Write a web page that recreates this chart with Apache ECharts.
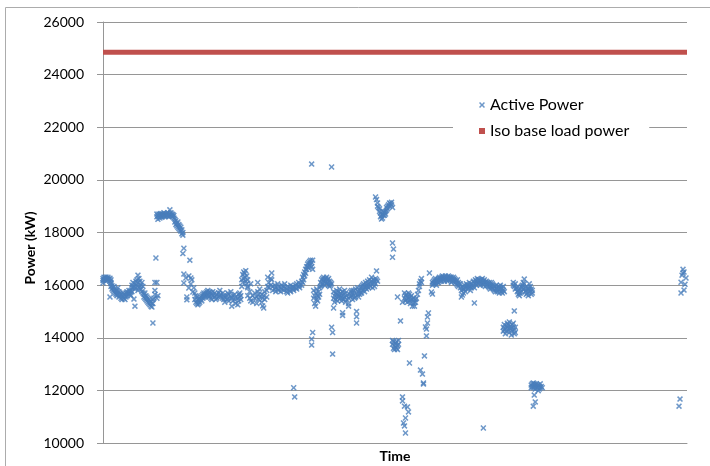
<!DOCTYPE html>
<html>
<head>
<meta charset="utf-8">
<script src="https://cdn.jsdelivr.net/npm/echarts@6/dist/echarts.min.js"></script>
<style>
  html, body { margin: 0; padding: 0; background: #fff; }
  #chart { width: 710px; height: 466px; }
</style>
</head>
<body>
<div id="chart"></div>
<script>
// Sample index range of the logged period (x axis, no tick labels)
const timeRange = [0, 585];

// Power axis ticks (kW)
const powerTicks = { min: 10000, max: 26000, step: 2000 };

// ISO base load power (kW), constant over the period
const isoBaseLoadKW = 24850;

// Active power readings: each row is [sample index, reading kW, reading kW, ...]
const activePowerReadings = [
  [0, 16250, 16180, 16080], [1, 16300, 16200], [2, 16220, 16280], [3, 16150, 16310], [4, 16250, 16180],
  [5, 16300, 16220], [6, 16230], [7, 16150, 16260, 15550], [8, 16100, 16200, 15950, 16050],
  [9, 15850, 15980], [10, 15800, 15900], [11, 15750, 15950], [12, 15700, 15850], [13, 15780, 15650],
  [14, 15600, 15800, 15700], [15, 15900, 15650], [16, 15750, 15550], [17, 15600, 15700], [18, 15500, 15650],
  [19, 15450, 15600], [20, 15550, 15700], [21, 15500, 15650], [22, 15450, 15600], [23, 15550, 15700],
  [24, 15600, 15750], [25, 15650, 15700], [26, 15700, 15800], [27, 15650, 15750], [28, 15800, 15600],
  [29, 15900, 15750, 16000], [30, 16100, 15900], [31, 15950, 15470], [32, 16050, 15200, 15850],
  [33, 16150, 15900], [34, 16200, 16000], [35, 16380, 16100, 15800], [36, 16250, 15900], [37, 16150, 15950],
  [38, 16000, 15850], [39, 16100, 15750], [40, 15950, 15700], [41, 15650, 15550], [42, 15500, 15700],
  [43, 15450, 15600], [44, 15400, 15550], [45, 15350, 15500], [46, 15300, 15450], [47, 15250, 15400],
  [48, 15200, 15350], [49, 15170, 15300], [50, 15300, 15450, 14560], [51, 15500], [52, 16100, 15800, 15650],
  [53, 17030], [54, 16100, 15500, 18600, 18700], [55, 15600, 18650, 18500], [56, 18700, 18600],
  [57, 18550, 18680], [58, 18620, 18720], [59, 18680, 18580], [60, 18700, 18620], [61, 18650, 18750],
  [62, 18600, 18700], [63, 18680, 18620], [64, 18720, 18650], [65, 18750, 18650], [66, 18700, 18600],
  [67, 18860, 18680], [68, 18750, 18650], [69, 18700, 18620], [70, 18600, 18680], [71, 18650, 18550],
  [72, 18500, 18400], [73, 18450, 18300], [74, 18350, 18250], [75, 18400, 18200], [76, 18300, 18150],
  [77, 18250, 18100], [78, 18200, 18050], [79, 18100, 17950], [80, 18000, 17900, 17200], [81, 17400, 16420, 16080],
  [83, 16270], [84, 15550, 15440], [86, 15890, 16350], [87, 16950], [88, 16270, 16040], [89, 16200],
  [90, 15740], [91, 15900], [92, 15700, 15450], [93, 15600, 15350], [94, 15550, 15300], [95, 15450, 15250],
  [96, 15400, 15300], [97, 15500, 15350], [98, 15450, 15550], [99, 15600, 15400], [100, 15500, 15650],
  [101, 15550, 15700], [102, 15600, 15650], [103, 15700, 15550], [104, 15750, 15600], [105, 15650, 15800],
  [106, 15700, 15550], [107, 15600, 15750], [108, 15700, 15500], [109, 15650, 15450], [110, 15600, 15750],
  [112, 15550, 15700], [113, 15600, 15450], [114, 15650, 15500], [116, 15700, 15550], [117, 15600, 15800],
  [118, 15550, 15650], [120, 15500, 15700], [121, 15450, 15600], [122, 15550, 15350], [124, 15600, 15450],
  [125, 15500, 15700], [126, 15650, 15400], [128, 15550, 15750], [129, 15200, 15500], [130, 15400, 15600],
  [132, 15650, 15450], [133, 15550, 15300], [135, 15250, 15500], [136, 15400, 15650], [137, 15550, 15700],
  [138, 15600, 15450], [139, 16200, 15950], [140, 16400, 16100], [141, 16500, 16250], [142, 16450, 16300],
  [143, 16550, 16150], [144, 16350, 16050], [145, 16200, 15950, 15900, 15600], [147, 15750, 15500],
  [148, 16050, 15400], [150, 15600, 15350], [152, 15500, 15700], [154, 15550, 15300], [155, 16100, 15750],
  [156, 15650, 15450], [157, 15550, 15850], [159, 15650, 15350], [160, 15210, 15500], [161, 15130, 15600],
  [162, 15750, 15450], [164, 15550, 15800], [165, 16300, 15950], [166, 15900, 16100], [168, 16250, 16000],
  [169, 16460, 16200], [170, 15950, 15800], [172, 16000, 15850], [173, 15750, 15900], [175, 16050, 15850],
  [176, 15950, 15800], [178, 15900, 15750], [179, 16000, 15850], [181, 15950, 15800], [182, 16050, 15900],
  [184, 15850, 15750], [185, 15950, 15700], [187, 15900, 15800], [188, 16000, 15750], [190, 15850, 15950],
  [191, 15900, 15800, 12100], [192, 11750], [193, 16000, 15900], [194, 16050, 15850], [196, 15950, 16100],
  [197, 16000, 15900], [199, 16150, 16000], [200, 16100, 16300], [201, 16200, 16400], [202, 16350, 16500],
  [203, 16450, 16600], [204, 16600, 16700], [205, 16700, 16800], [206, 16850, 16650], [207, 16900, 16750],
  [208, 16950, 16800], [209, 16850, 16700, 20600, 13950, 13720], [210, 16600, 16950, 14200],
  [211, 15800, 15500], [212, 15600, 15300], [213, 15200, 15700], [214, 15450, 15850], [215, 15600, 15400],
  [216, 15750, 15550], [217, 15900, 15650], [218, 15950, 16100], [219, 16200, 16000], [220, 16250, 16050],
  [221, 16300, 16150], [222, 16200, 16000], [223, 16100, 16250], [224, 16300, 16050], [225, 16200, 16100],
  [226, 16000, 16250], [227, 16150, 15950], [228, 16100, 16000], [229, 16050, 20490, 14400],
  [230, 14200, 13380], [231, 15130, 15500, 15750], [232, 15600, 15350], [233, 15700, 15450], [234, 15800, 15550],
  [235, 15650, 15400], [236, 15750, 15550], [237, 15850, 15600], [238, 15700, 15500], [239, 15600, 15400],
  [240, 15500, 15750, 14950, 14850], [241, 15650, 15450], [242, 15800, 15550], [243, 15700, 15350],
  [244, 15600, 15450], [246, 15200, 15500, 15300], [247, 15650], [248, 15750, 15550], [249, 15800, 15600],
  [250, 15700, 15450], [251, 15600, 15800], [252, 15700, 15500], [253, 15550, 15850], [254, 15000, 14800, 14560],
  [255, 15650, 15900], [256, 15750, 15550], [257, 15800, 15650], [258, 15900, 15700], [259, 15700, 15950],
  [260, 15800, 16000], [261, 15850, 16050], [262, 15750, 15950], [263, 15900, 16100], [264, 16000, 15850],
  [265, 15950, 16150], [266, 16050, 15900], [267, 16200, 16000], [268, 15950, 16100], [269, 16150, 16300],
  [270, 16050, 15900], [271, 16100, 16200], [272, 15950, 16150], [273, 16050, 16250, 19350],
  [274, 16200, 16540, 19250], [275, 16150, 19120, 19000], [276, 18950], [277, 18800, 18900], [278, 18740, 18600],
  [279, 18510, 18650], [280, 18700, 18550], [281, 18650, 18800], [282, 18660, 18750], [283, 18800, 18700],
  [284, 18850, 18950], [285, 18900, 19000], [286, 19050], [287, 19120, 19000], [288, 19100],
  [289, 19050, 19150], [290, 18950, 17600, 17060, 13750, 13900], [291, 17370, 13600, 13850],
  [292, 13700, 13550], [293, 13800, 13650], [294, 13850, 13600], [295, 13700, 13550, 15550],
  [296, 13900, 13750], [298, 14640], [300, 15350, 11750, 11600], [301, 10760], [302, 15500, 15700, 11400, 10650],
  [303, 15400, 15600, 10950, 10380], [304, 15650, 15450], [305, 15550, 15350, 11370], [306, 15700, 15500, 11180],
  [307, 15400, 15650, 13040], [308, 15300, 15550], [309, 15600, 15450], [310, 15450, 15200], [311, 15500, 15300],
  [312, 15200, 15350], [313, 15350, 15450], [314, 15500], [315, 15650], [316, 15800], [317, 15950, 16050],
  [318, 16150, 12770], [319, 16250, 16100], [320, 12620], [321, 12280, 12240], [322, 13310],
  [323, 14410], [324, 14330, 14070], [325, 14790, 14560], [326, 14940], [327, 16460], [329, 15740],
  [330, 15660, 16100, 16000], [331, 16150, 16050], [332, 16200, 16050], [333, 16100, 16250], [334, 16150, 16000],
  [335, 16200, 16100], [336, 16250, 16100], [337, 16150, 16300], [338, 16200, 16250], [339, 16300, 16150],
  [340, 16250, 16350], [341, 16200, 16300], [342, 16300, 16150], [343, 16350, 16250], [344, 16250, 16200],
  [345, 16300, 16150], [346, 16350, 16200], [347, 16250, 16300], [348, 16200, 16300], [349, 16300, 16100],
  [350, 16250, 16150], [351, 16200, 16300], [352, 16150, 16250], [353, 16100, 16200], [354, 16150, 16050],
  [355, 16000, 16200], [356, 16100, 15950], [357, 16050], [358, 15900, 16050], [359, 15800, 15550],
  [360, 15620, 15900], [361, 15700, 15850], [362, 15850, 16000], [363, 15900, 15750], [364, 15950, 16050],
  [365, 15850, 16000], [366, 16000, 15900], [367, 15950, 16100], [368, 15800, 15950], [369, 16050, 15900],
  [370, 15950], [371, 16000, 16150], [372, 16100, 15900, 15320], [373, 16200, 16050], [374, 16150, 16000],
  [375, 16250, 16100], [376, 16200, 16050], [377, 16100, 16200], [378, 16150, 16000], [379, 16200, 16100],
  [380, 16050, 16250], [381, 16150, 16000, 10570], [382, 16200, 16100], [383, 16100, 15950], [384, 16150, 16050],
  [385, 16000, 16100], [386, 16050, 15950], [387, 16100, 15900], [388, 16000, 15850], [389, 15950, 16100],
  [390, 15900, 16050], [391, 16000, 15850], [392, 15950, 15800], [393, 15950, 15750], [394, 15850, 16000],
  [395, 15750, 15900], [396, 15800, 15950], [397, 15900, 15700], [398, 16000, 15850], [399, 15750, 15900],
  [400, 15850, 15700], [401, 15800, 15950, 14400, 14250], [402, 15750, 14500, 14300], [403, 14350, 14150],
  [404, 14450, 14250], [405, 14550, 14400], [406, 14300, 14500], [407, 14600, 14200], [408, 14450, 14350],
  [409, 14350, 14100], [410, 14500, 14250], [411, 14400, 14550, 16000, 16100], [412, 14300, 14150, 15020, 15950],
  [413, 14200, 14400, 15850, 16050], [414, 15900], [415, 15750, 15900], [416, 15650, 15800], [417, 15700, 15600],
  [418, 15850, 15700], [419, 15950, 15750], [420, 16000, 15900], [421, 16100, 15850], [422, 16230, 16050],
  [423, 15900, 15750], [424, 15800, 15650], [425, 15700, 15900], [426, 15600, 15850], [427, 16050, 15850],
  [428, 15750, 15950], [429, 15650, 15850, 12200, 12100], [430, 15800, 15700, 12250, 12150],
  [431, 12280, 12100, 11400], [432, 12150, 12250, 11820], [433, 12200, 12050, 11560], [434, 12250, 12150],
  [435, 12100, 12200], [436, 12200, 11990], [437, 12150, 12050], [438, 12100, 12250], [439, 12150], [440, 12100],
  [577, 11400], [578, 11670], [579, 16110, 15700], [580, 16380], [581, 16600, 16450], [582, 15810, 16500],
  [583, 16030], [584, 16270]
];

// Flatten the rows into [index, kW] points for the scatter series
const activePowerPoints = [];
activePowerReadings.forEach(function (row) {
  for (let i = 1; i < row.length; i++) activePowerPoints.push([row[0], row[i]]);
});

const crossMarker = 'path://M0,1.8L1.8,0L5,3.2L8.2,0L10,1.8L6.8,5L10,8.2L8.2,10L5,6.8L1.8,10L0,8.2L3.2,5Z';
const fontFamily = 'Lato, "Liberation Sans", sans-serif';
const gridColor = '#969696';

const chart = echarts.init(document.getElementById('chart'), null, { renderer: 'canvas' });
chart.setOption({
  animation: false,
  backgroundColor: '#fff',
  grid: { left: 103, right: 23, top: 22, bottom: 23, containLabel: false },
  xAxis: {
    type: 'value',
    min: timeRange[0],
    max: timeRange[1],
    axisLine: { show: true, lineStyle: { color: gridColor, width: 1 } },
    axisTick: { show: false },
    axisLabel: { show: false },
    splitLine: { show: false }
  },
  yAxis: {
    type: 'value',
    min: powerTicks.min,
    max: powerTicks.max,
    interval: powerTicks.step,
    axisLine: { show: true, lineStyle: { color: gridColor, width: 1 } },
    axisTick: { show: true, inside: false, length: 6, lineStyle: { color: gridColor } },
    axisLabel: {
      margin: 19, color: '#000', fontFamily: fontFamily, fontSize: 14,
      formatter: function (v) { return String(v); }
    },
    splitLine: { show: true, lineStyle: { color: gridColor, width: 1 } }
  },
  legend: {
    orient: 'vertical',
    left: 453,
    top: 91,
    backgroundColor: '#fff',
    padding: [6, 20, 6, 26],
    itemWidth: 6,
    itemHeight: 6,
    itemGap: 10,
    textStyle: { fontFamily: fontFamily, fontSize: 16, color: '#000', lineHeight: 15 },
    data: [
      { name: 'Active Power', icon: crossMarker },
      { name: 'Iso base load power', icon: 'rect' }
    ]
  },
  series: [
    {
      name: 'Active Power',
      type: 'scatter',
      symbol: crossMarker,
      symbolSize: 6,
      itemStyle: { color: '#4A7EBB' },
      data: activePowerPoints,
      z: 3
    },
    {
      name: 'Iso base load power',
      type: 'line',
      showSymbol: false,
      symbol: 'none',
      itemStyle: { color: '#C0504D' },
      lineStyle: { color: '#C0504D', width: 5 },
      data: [[timeRange[0], isoBaseLoadKW], [timeRange[1], isoBaseLoadKW]],
      z: 2
    }
  ],
  graphic: [
    {
      type: 'rect',
      silent: true,
      shape: { x: 5.5, y: 7.5, width: 720, height: 480 },
      style: { fill: 'none', stroke: '#ACACAC', lineWidth: 1 }
    },
    {
      type: 'text',
      x: 30,
      y: 248,
      rotation: Math.PI / 2,
      style: { text: 'Power (kW)', font: 'bold 14px ' + fontFamily, fill: '#000', align: 'center', verticalAlign: 'middle' }
    },
    {
      type: 'text',
      x: 395,
      y: 456,
      style: { text: 'Time', font: 'bold 14px ' + fontFamily, fill: '#000', align: 'center', verticalAlign: 'middle' }
    }
  ]
});
</script>
</body>
</html>
